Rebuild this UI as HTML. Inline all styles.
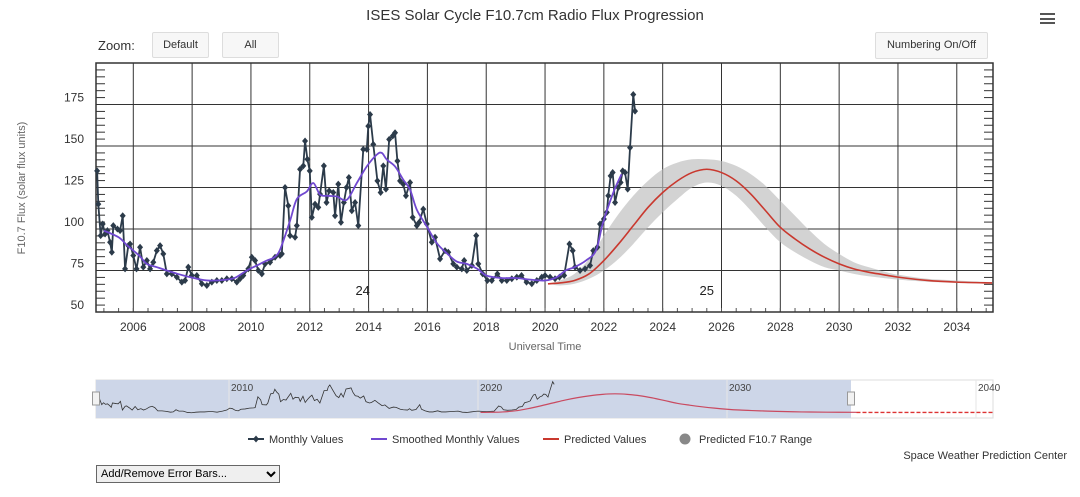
<!DOCTYPE html>
<html><head><meta charset="utf-8">
<style>
body{margin:0;width:1080px;height:497px;background:#fff;font-family:"Liberation Sans",sans-serif;overflow:hidden;position:relative}
.btn{position:absolute;background:#f7f7f7;border:1px solid #ddd;border-radius:2px;font-size:11px;color:#333;text-align:center;box-sizing:border-box}
</style></head><body>
<svg id="chart" width="1080" height="497" style="position:absolute;left:0;top:0"></svg>
<div class="btn" style="left:152px;top:32px;width:57px;height:26px;line-height:24px">Default</div>
<div class="btn" style="left:222px;top:32px;width:57px;height:26px;line-height:24px">All</div>
<div class="btn" style="left:875px;top:32px;width:113px;height:27px;line-height:25px">Numbering On/Off</div>
<div style="position:absolute;left:98px;top:38px;font-size:13px;color:#333">Zoom:</div>
<div style="position:absolute;left:1040px;top:13px;width:15px;height:12px">
<div style="height:2px;background:#555;margin-bottom:2.5px"></div><div style="height:2px;background:#555;margin-bottom:2.5px"></div><div style="height:2px;background:#555"></div></div>
<div style="position:absolute;right:13px;top:450px;font-size:11px;color:#333">Space Weather Prediction Center</div>
<select style="position:absolute;left:96px;top:465px;width:184px;height:18px;font-size:11px;font-family:'Liberation Sans',sans-serif;border:1px solid #666;padding:0"><option>Add/Remove Error Bars...</option></select>
<script>
const monthT=[2004.77,2004.81,2004.89,2004.96,2005.04,2005.12,2005.21,2005.27,2005.32,2005.46,2005.55,2005.64,2005.72,2005.83,2005.89,2006.0,2006.11,2006.23,2006.34,2006.46,2006.57,2006.68,2006.8,2006.91,2007.02,2007.14,2007.31,2007.48,2007.65,2007.76,2007.87,2007.99,2008.16,2008.33,2008.5,2008.67,2008.84,2009.01,2009.18,2009.35,2009.52,2009.63,2009.74,2009.91,2010.03,2010.14,2010.25,2010.37,2010.48,2010.65,2010.82,2010.99,2011.05,2011.16,2011.27,2011.33,2011.5,2011.56,2011.67,2011.78,2011.84,2011.92,2012.0,2012.07,2012.18,2012.29,2012.35,2012.48,2012.57,2012.66,2012.8,2012.86,2012.97,2013.06,2013.16,2013.25,2013.33,2013.43,2013.54,2013.65,2013.82,2013.94,2013.99,2014.05,2014.16,2014.3,2014.41,2014.5,2014.59,2014.7,2014.82,2014.9,2014.98,2015.07,2015.18,2015.27,2015.41,2015.5,2015.64,2015.72,2015.86,2015.98,2016.15,2016.26,2016.43,2016.6,2016.71,2016.88,2017.0,2017.17,2017.25,2017.34,2017.51,2017.66,2017.73,2017.88,2018.04,2018.19,2018.38,2018.53,2018.7,2018.87,2019.04,2019.2,2019.37,2019.55,2019.72,2019.89,2020.0,2020.17,2020.34,2020.49,2020.65,2020.83,2020.94,2021.02,2021.19,2021.36,2021.53,2021.64,2021.78,2021.87,2022.0,2022.1,2022.15,2022.23,2022.3,2022.38,2022.49,2022.57,2022.64,2022.72,2022.81,2022.89,2023.0,2023.06];
const monthV=[135,115,96,103,97,99,92,86,102,100,99,108,76,90,91,84,76,89,77,81,76,80,87,90,85,73,73,71,68,69,77,72,72,67,66,68,69,69,70,70,68,70,72,76,83,81,75,73,79,80,83,84,85,125,114,96,95,102,136,138,153,142,135,107,115,113,121,138,116,123,122,108,127,104,116,125,131,111,116,102,148,148,162,169,151,129,122,138,124,154,156,158,141,129,127,120,128,107,102,104,112,103,92,95,82,87,86,79,77,76,81,75,78,96,79,73,69,69,73,69,69,70,71,72,68,67,69,71,72,71,70,71,72,91,87,77,75,76,78,87,89,103,106,110,120,132,134,116,125,128,135,134,124,149,181,171];
const smoothT=[2005.0,2005.5,2005.8,2006.2,2006.46,2006.8,2007.14,2007.5,2007.93,2008.5,2009.18,2009.5,2009.86,2010.2,2010.54,2010.8,2011.0,2011.33,2011.56,2011.9,2012.12,2012.35,2012.6,2012.92,2013.26,2013.6,2013.94,2014.28,2014.45,2014.62,2014.9,2015.18,2015.41,2015.64,2015.98,2016.32,2016.66,2017.0,2017.34,2017.7,2018.0,2018.5,2019.0,2019.5,2020.0,2020.4,2020.7,2021.0,2021.39,2021.73,2021.96,2022.3,2022.6];
const smoothV=[99,95,90,84,79,77,75,73,71,69,69.5,71,75,78,81,83,88,105,118,122.6,127.7,120.7,120,119.6,117.6,127.7,137.7,144.8,145.8,141.8,137.7,129.7,123.7,111.6,101.5,91.5,85.4,80.4,79,76,72,70.5,70.5,69.5,69,71,75,77,81,87,103,121,133];
const predT=[2020.1,2020.5,2021.0,2021.5,2022.0,2022.5,2023.0,2023.5,2024.0,2024.5,2025.0,2025.5,2026.0,2026.5,2027.0,2027.5,2028.0,2028.5,2029.0,2029.5,2030.0,2030.5,2031.0,2031.5,2032.0,2033.0,2034.0,2035.2];
const predV=[67,67.5,69,73,81,91,102,113,122,129,134,136,134,129,121,111,101,94,88,83,79,76,74,72.5,71,69,68,67.5];
const predLo=[67,66,67,70,75,82,91,101,110,118,125,128,126,120,111,101,92,86,81,77,75,73,71.5,70.5,69.5,68.2,67.5,67];
const predHi=[67,69,73,82,96,109,120,129,136,140,142,142,141,138,133,126,117,108,99,91,85,80,77,74.5,72.5,70,69,68];
const yTicks=[50,75,100,125,150,175];
const xTicks=[2006,2008,2010,2012,2014,2016,2018,2020,2022,2024,2026,2028,2030,2032,2034];
const navTicks=[2010,2020,2030,2040];
const cycleLabels=["24","25"];
const cycleT=[2013.8,2025.5];

const NS="http://www.w3.org/2000/svg";
const svg=document.getElementById('chart');
const L=96,R=993,T=63,B=312;
const X=t=>133.3+(t-2006)*29.41;
const Y=v=>B-(v-50)*(B-T)/150;
const NX=t=>229+(t-2010)*24.9;
const NY=v=>413-(v-65)*0.27;
function el(tag,attrs,parent){const e=document.createElementNS(NS,tag);for(const k in attrs)e.setAttribute(k,attrs[k]);(parent||svg).appendChild(e);return e;}
function txt(s,attrs){const e=el('text',attrs);e.textContent=s;return e;}
function smooth(pts,move){let d=(move?'M':'L')+pts[0][0]+','+pts[0][1];
for(let i=0;i<pts.length-1;i++){const p0=pts[i-1]||pts[i],p1=pts[i],p2=pts[i+1],p3=pts[i+2]||p2;
d+=` C${p1[0]+(p2[0]-p0[0])/6},${p1[1]+(p2[1]-p0[1])/6} ${p2[0]-(p3[0]-p1[0])/6},${p2[1]-(p3[1]-p1[1])/6} ${p2[0]},${p2[1]}`;}
return d;}

const title=txt("ISES Solar Cycle F10.7cm Radio Flux Progression",{x:535,y:20,'text-anchor':'middle','font-size':15,fill:'#333'});



const grid=el('g',{});


yTicks.forEach(v=>{ if(v>50) el('line',{x1:L,x2:R,y1:Y(v),y2:Y(v),stroke:'#333','stroke-width':1},grid);});
xTicks.forEach(t=>el('line',{x1:X(t),x2:X(t),y1:T,y2:B,stroke:'#333','stroke-width':1},grid));
for(let t=2005;t<=2035;t+=0.5){const x=X(t);if(x>L&&x<R)el('line',{x1:x,x2:x,y1:B,y2:B-4,stroke:'#555'},grid);}
for(let v=50;v<=200;v+=25/6){el('line',{x1:L,x2:L+9,y1:Y(v),y2:Y(v),stroke:'#333'},grid);el('line',{x1:R-9,x2:R,y1:Y(v),y2:Y(v),stroke:'#333'},grid);}
el('rect',{x:L,y:T,width:R-L,height:B-T,fill:'none',stroke:'#333','stroke-width':1.5},grid);

yTicks.forEach(v=>{const t=txt(String(v),{x:84,y:Y(v)-3,'text-anchor':'end','font-size':12,fill:'#333'});

});
xTicks.forEach(tk=>{const t=txt(String(tk),{x:X(tk),y:331,'text-anchor':'middle','font-size':12,fill:'#333'});

});
const yt=txt("F10.7 Flux (solar flux units)",{x:0,y:0,transform:'translate(25,188) rotate(-90)','text-anchor':'middle','font-size':11,fill:'#666'});


const xt=txt("Universal Time",{x:545,y:350,'text-anchor':'middle','font-size':11,fill:'#666'});


cycleLabels.forEach((c,i)=>{const t=txt(c,{x:X(cycleT[i]),y:295,'text-anchor':'middle','font-size':13,fill:'#222'});

});

const hiPts=predT.map((t,i)=>[X(t),Y(predHi[i])]);
const loPts=predT.map((t,i)=>[X(t),Y(predLo[i])]).reverse();
const band=el('path',{d:smooth(hiPts,true)+' '+smooth(loPts,false)+' Z',fill:'#bbb','fill-opacity':0.65});


const pl=el('path',{d:smooth(predT.map((t,i)=>[X(t),Y(predV[i])]),true),fill:'none',stroke:'#c9382e','stroke-width':1.6});


const ml=el('polyline',{points:monthT.map((t,i)=>X(t)+','+Y(monthV[i])).join(' '),fill:'none',stroke:'#2c3b4a','stroke-width':1.8});


monthT.forEach((t,i)=>{const x=X(t),y=Y(monthV[i]);const d=el('polygon',{points:`${x},${y-3.5} ${x+3},${y} ${x},${y+3.5} ${x-3},${y}`,fill:'#2c3b4a'});

});
const sl=el('path',{d:smooth(smoothT.map((t,i)=>[X(t),Y(smoothV[i])]),true),fill:'none',stroke:'#7048d0','stroke-width':1.8});



const nav=el('g',{});


el('rect',{x:96,y:380,width:897,height:38,fill:'#fff',stroke:'#ddd'},nav);
el('rect',{x:96,y:380,width:755,height:38,fill:'#cdd6e8'},nav);
navTicks.forEach(t=>{el('line',{x1:NX(t),x2:NX(t),y1:380,y2:418,stroke:'#e6e6e6'},nav);
const l=txt(String(t),{x:NX(t)+2,y:391,'font-size':10,fill:'#444'});

});
el('polyline',{points:monthT.map((t,i)=>NX(t)+','+NY(monthV[i])).join(' '),fill:'none',stroke:'#333','stroke-width':0.8},nav);
el('path',{d:smooth(predT.map((t,i)=>[NX(t),NY(predV[i])]),true),fill:'none',stroke:'#c94a60','stroke-width':1.2},nav);
el('line',{x1:NX(2035.2),x2:993,y1:NY(67),y2:NY(67),stroke:'#d33','stroke-width':1.4,'stroke-dasharray':'4,2'},nav);
[96,851].forEach(x=>{const h=el('rect',{x:x-3.5,y:392,width:7,height:13,fill:'#f2f2f2',stroke:'#999'},nav);

});

const leg=el('g',{});


const items=[["Monthly Values",'#2c3b4a',248,'m'],["Smoothed Monthly Values",'#7048d0',371,'l'],["Predicted Values",'#c9382e',543,'l'],["Predicted F10.7 Range",'#888',679,'c']];
items.forEach(([s,c,x,k])=>{const g=el('g',{},leg);


if(k==='c')el('circle',{cx:x+6,cy:439,r:5.5,fill:c},g);
else{el('line',{x1:x,x2:x+16,y1:439,y2:439,stroke:c,'stroke-width':2},g);
if(k==='m')el('polygon',{points:`${x+8},435.5 ${x+11},439 ${x+8},442.5 ${x+5},439`,fill:c},g);}
const t=el('text',{x:x+(k==='c'?20:21),y:443,'font-size':11,fill:'#333'},g);t.textContent=s;});
</script>
</body></html>
